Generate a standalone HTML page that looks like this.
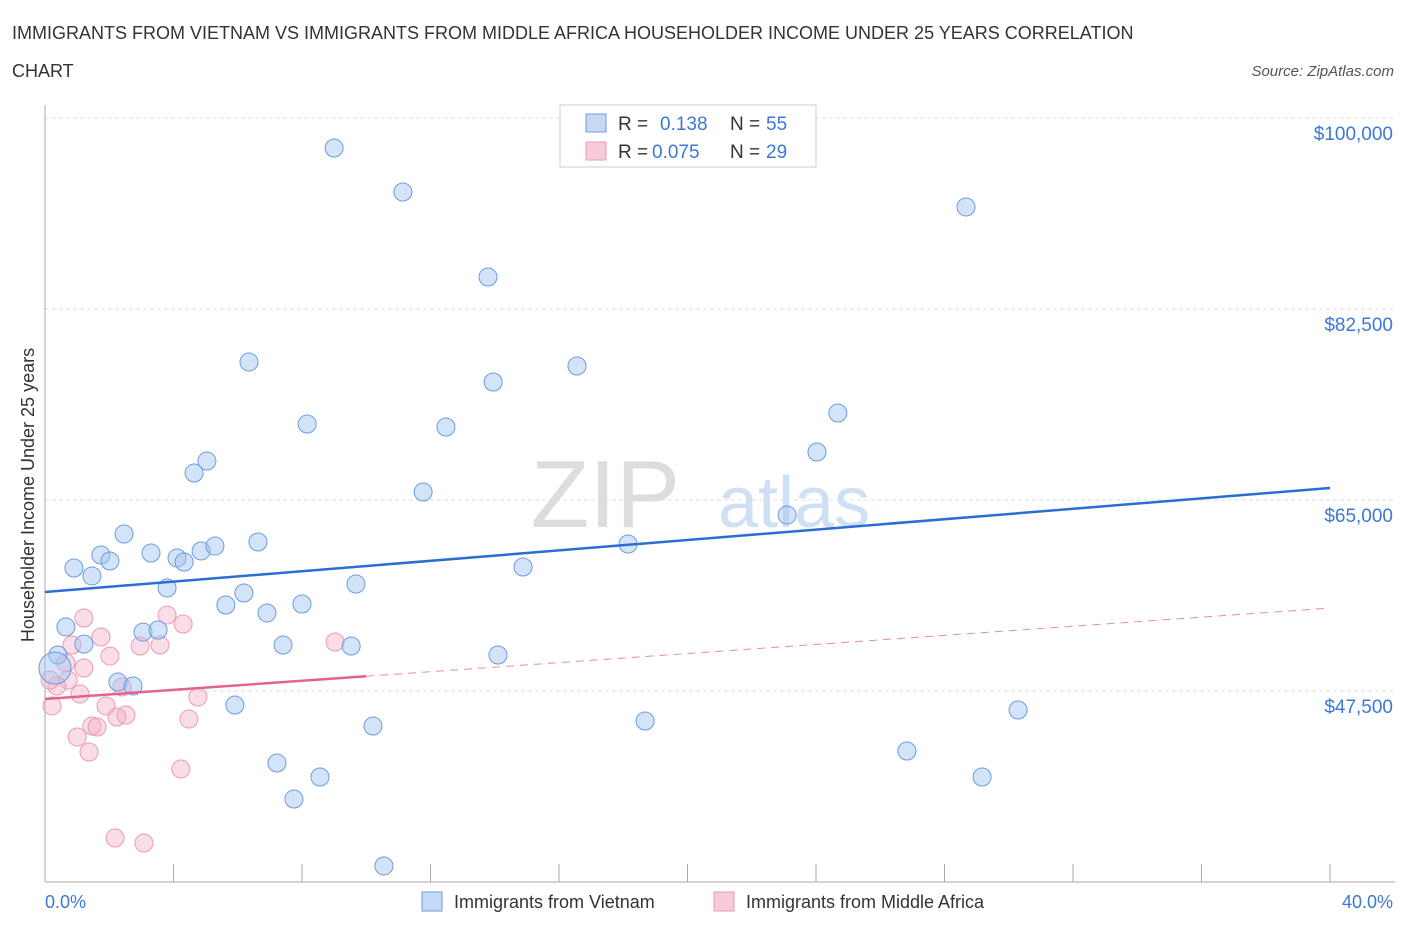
<!DOCTYPE html>
<html><head><meta charset="utf-8"><style>
body{margin:0;background:#fff;font-family:"Liberation Sans",sans-serif;}
svg text{font-family:"Liberation Sans",sans-serif;}
</style></head><body>
<svg width="1406" height="930">
<text x="12" y="39" font-size="18" fill="#333">IMMIGRANTS FROM VIETNAM VS IMMIGRANTS FROM MIDDLE AFRICA HOUSEHOLDER INCOME UNDER 25 YEARS CORRELATION</text>
<text x="12" y="77" font-size="18" fill="#333">CHART</text>
<text x="1394" y="76" font-size="15" fill="#555" font-style="italic" text-anchor="end">Source: ZipAtlas.com</text>
<text x="680" y="527" font-size="96" fill="#ddd" font-family="Liberation Serif" text-anchor="end">ZIP</text>
<text x="718" y="527" font-size="72" fill="#cfe0f5">atlas</text>
<g id="grid"></g>
<g id="axes"></g>
<g id="marks"></g>
<text transform="translate(34,495) rotate(-90)" font-size="18" fill="#333" text-anchor="middle">Householder Income Under 25 years</text>
<text x="45" y="908" font-size="18" fill="#3b78d8">0.0%</text>
<text x="1393" y="908" font-size="18" fill="#3b78d8" text-anchor="end">40.0%</text>
<g>
<rect x="560" y="105" width="256" height="62" fill="#fff" stroke="#ccc"/>
<rect x="586" y="114" width="20" height="18" fill="#c5daf5" stroke="#6a9be0"/>
<text x="618" y="130" font-size="19" fill="#333">R =</text><text x="660" y="130" font-size="19" fill="#3b78d8">0.138</text>
<text x="730" y="130" font-size="19" fill="#333">N =</text><text x="766" y="130" font-size="19" fill="#3b78d8">55</text>
<rect x="586" y="142" width="20" height="18" fill="#f8cada" stroke="#e99ab5"/>
<text x="618" y="158" font-size="19" fill="#333">R =</text><text x="652" y="158" font-size="19" fill="#3b78d8">0.075</text>
<text x="730" y="158" font-size="19" fill="#333">N =</text><text x="766" y="158" font-size="19" fill="#3b78d8">29</text>
</g>
<g><rect x="422" y="892" width="20" height="19" fill="#c5daf5" stroke="#6a9be0"/><text x="454" y="908" font-size="18" fill="#333">Immigrants from Vietnam</text></g>
<g><rect x="714" y="892" width="20" height="19" fill="#f8cada" stroke="#e99ab5"/><text x="746" y="908" font-size="18" fill="#333">Immigrants from Middle Africa</text></g>
</svg>
<script>
const yTicks=[100000,82500,65000,47500];
const yTickLabels=["$100,000","$82,500","$65,000","$47,500"];
const xTicks=[0,4,8,12,16,20,24,28,32,36,40];
const vietX=[9.0,11.14,13.79,28.67,6.35,16.56,13.95,8.16,12.48,24.68,5.04,4.64,24.03,11.77,23.10,2.46,6.63,1.74,3.30,2.02,4.11,4.33,4.86,5.29,0.90,1.46,18.15,14.88,3.80,6.19,9.68,5.63,6.91,8.00,0.65,1.21,3.05,3.52,7.41,9.53,14.10,0.40,2.27,2.74,5.91,10.21,18.68,30.29,26.83,7.22,8.56,29.17,7.75,10.55,0.31];
const vietY=[97250,93220,85430,91850,77640,77280,75810,71960,71690,72970,68570,67470,69400,65730,63620,61880,61150,59960,60140,59410,59690,59320,60330,60780,58770,58040,60970,58860,56940,56480,57300,55380,54650,55470,53360,51800,52900,53090,51710,51620,50800,50800,48320,47960,46220,44290,44750,45760,42000,40900,39620,39620,37600,31470,49600];
const afrX=[1.21,1.74,0.84,2.02,0.65,1.21,0.72,0.37,1.09,2.40,1.90,2.24,2.52,1.46,1.62,1.00,1.37,4.23,2.18,3.08,3.80,4.30,3.58,2.96,4.76,4.48,9.03,0.22,0.16];
const afrY=[54190,52450,51710,50710,50070,49610,48510,47960,47220,47870,46130,45120,45300,44290,44200,43290,41910,40350,34030,33570,54460,53640,51710,51620,46950,44930,51990,46130,48510];
const vietTrend=[56570,66100];
const afrTrend=[46770,55100];
const NS="http://www.w3.org/2000/svg";
const X=v=>45+v*(1285/40);
const Y=v=>118+(100000-v)*(764/70000);
function mk(parent,tag,attrs){const e=document.createElementNS(NS,tag);for(const k in attrs)e.setAttribute(k,attrs[k]);document.getElementById(parent).appendChild(e);return e;}
yTicks.forEach((t,i)=>{
 let l=mk('grid','line',{x1:45,x2:1395,y1:Y(t),y2:Y(t),stroke:'#ddd','stroke-dasharray':'4,3'});
 
 
 let tx=mk('grid','text',{x:1393,y:Y(t)+22,'font-size':19,fill:'#3b78d8','text-anchor':'end'});
 tx.textContent=yTickLabels[i];
 
 
});
let ax=mk('axes','line',{x1:45,x2:1395,y1:882,y2:882,stroke:'#aaa'});


let ay=mk('axes','line',{x1:45,x2:45,y1:105,y2:882,stroke:'#aaa'});


xTicks.forEach(t=>{
 let l=mk('axes','line',{x1:X(t),x2:X(t),y1:864,y2:882,stroke:'#aaa'});
 
 
});
afrX.forEach((x,i)=>{
 let c=mk('marks','circle',{cx:X(x),cy:Y(afrY[i]),r:9,fill:'rgba(244,170,195,0.4)',stroke:'#ea9ab6','stroke-width':1});
 
 
});
vietX.forEach((x,i)=>{
 let c=mk('marks','circle',{cx:X(x),cy:Y(vietY[i]),r:(i===vietX.length-1?16:9),fill:'rgba(160,196,240,0.45)',stroke:'#6a9be0','stroke-width':1});
 
 
});
let tb=mk('marks','line',{x1:X(0),y1:Y(vietTrend[0]),x2:X(40),y2:Y(vietTrend[1]),stroke:'#2a6dd4','stroke-width':2.5});


const afrAt=x=>afrTrend[0]+(afrTrend[1]-afrTrend[0])*x/40;
let tp=mk('marks','line',{x1:X(0),y1:Y(afrTrend[0]),x2:X(10),y2:Y(afrAt(10)),stroke:'#e5628d','stroke-width':2.5});


let td=mk('marks','line',{x1:X(10),y1:Y(afrAt(10)),x2:X(40),y2:Y(afrTrend[1]),stroke:'#e98aab','stroke-width':1,'stroke-dasharray':'8,6'});


</script>
</body></html>
